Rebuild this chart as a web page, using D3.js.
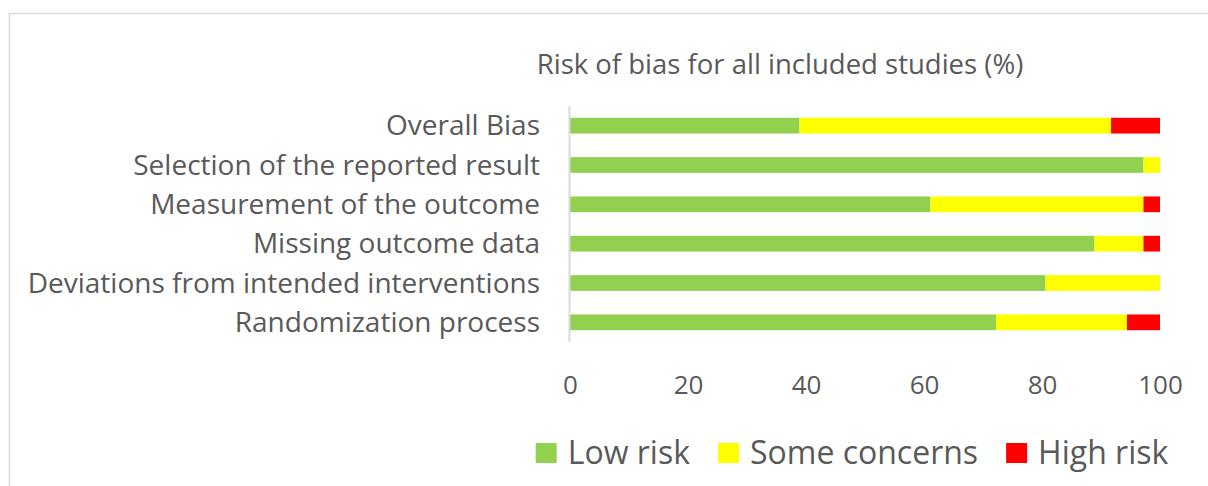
<!DOCTYPE html>
<html>
<head>
<meta charset="utf-8">
<script src="https://cdn.jsdelivr.net/npm/d3@7"></script>
<style>
  html, body { margin: 0; padding: 0; background: #fff; }
  svg { display: block; }
  text { font-family: "Open Sans", sans-serif; fill: #595959; }
</style>
</head>
<body>
<svg id="chart" width="1208" height="486"></svg>
<script>
const title = "Risk of bias for all included studies (%)";
const categories = [
  "Overall Bias",
  "Selection of the reported result",
  "Measurement of the outcome",
  "Missing outcome data",
  "Deviations from intended interventions",
  "Randomization process"
];
const seriesNames = ["Low risk", "Some concerns", "High risk"];
const lowRisk      = [38.9, 97.2, 61.1, 88.9, 80.6, 72.2];
const someConcerns = [52.8,  2.8, 36.1,  8.3, 19.4, 22.2];
const highRisk     = [ 8.3,  0.0,  2.8,  2.8,  0.0,  5.6];
const tickValues = [0, 20, 40, 60, 80, 100];
const colors = ["#92d050", "#ffff00", "#ff0000"];

const svg = d3.select("#chart");

// outer chart border
svg.append("rect")
  .attr("x", 9.5).attr("y", 13.5)
  .attr("width", 1300).attr("height", 600)
  .attr("fill", "none").attr("stroke", "#d9d9d9").attr("stroke-width", 1.5);

const x = d3.scaleLinear().domain([0, 100]).range([570, 1160]);
const y = d3.scaleBand().domain(categories).range([106, 342])
  .paddingInner(0.6).paddingOuter(0.3);

const rows = categories.map((c, i) => ({ cat: c, vals: [lowRisk[i], someConcerns[i], highRisk[i]] }));
const stack = d3.stack().keys([0, 1, 2]).value((d, k) => d.vals[k]);
const stacked = stack(rows);

svg.append("g").selectAll("g")
  .data(stacked)
  .join("g")
  .attr("fill", (d, i) => colors[i])
  .selectAll("rect")
  .data(d => d)
  .join("rect")
  .attr("x", d => x(d[0]))
  .attr("y", d => y(d.data.cat))
  .attr("width", d => Math.max(0, x(d[1]) - x(d[0])))
  .attr("height", y.bandwidth());

// vertical axis line
svg.append("line")
  .attr("x1", x(0) - 0.5).attr("x2", x(0) - 0.5)
  .attr("y1", 106).attr("y2", 342)
  .attr("stroke", "#d9d9d9").attr("stroke-width", 2);

// category labels
svg.append("g").selectAll("text")
  .data(categories)
  .join("text")
  .attr("x", 540)
  .attr("y", d => y(d) + y.bandwidth() / 2)
  .attr("dy", "0.35em")
  .attr("text-anchor", "end")
  .style("font-size", "28px")
  .text(d => d);

// x tick labels via axis
const xAxis = d3.axisBottom(x).tickValues(tickValues).tickSize(0).tickPadding(0);
const gx = svg.append("g").attr("transform", "translate(0,371)").call(xAxis);
gx.select(".domain").remove();
gx.selectAll("text")
  .attr("dy", "0.9em")
  .style("font-size", "26px")
  .style("font-family", "'Open Sans', sans-serif")
  .attr("fill", "#595959");

// title
svg.append("text")
  .attr("x", 780).attr("y", 74)
  .attr("text-anchor", "middle")
  .style("font-size", "27.5px")
  .text(title);

// legend
const legend = svg.append("g");
const items = legend.selectAll("g").data(seriesNames).join("g");
items.append("rect")
  .attr("width", 20).attr("height", 20)
  .attr("y", 443)
  .attr("fill", (d, i) => colors[i]);
items.append("text")
  .attr("y", 464)
  .style("font-size", "32px")
  .text(d => d);
let widths = [];
items.select("text").each(function () { widths.push(this.getComputedTextLength()); });
const sq = 21, gapText = 11, gapItem = 28;
const total = d3.sum(widths) + seriesNames.length * (sq + gapText) + gapItem * (seriesNames.length - 1);
let cx = 852 - total / 2;
items.each(function (d, i) {
  const g = d3.select(this);
  g.select("rect").attr("x", cx).attr("width", sq);
  g.select("text").attr("x", cx + sq + gapText);
  cx += sq + gapText + widths[i] + gapItem;
});
</script>
</body>
</html>
